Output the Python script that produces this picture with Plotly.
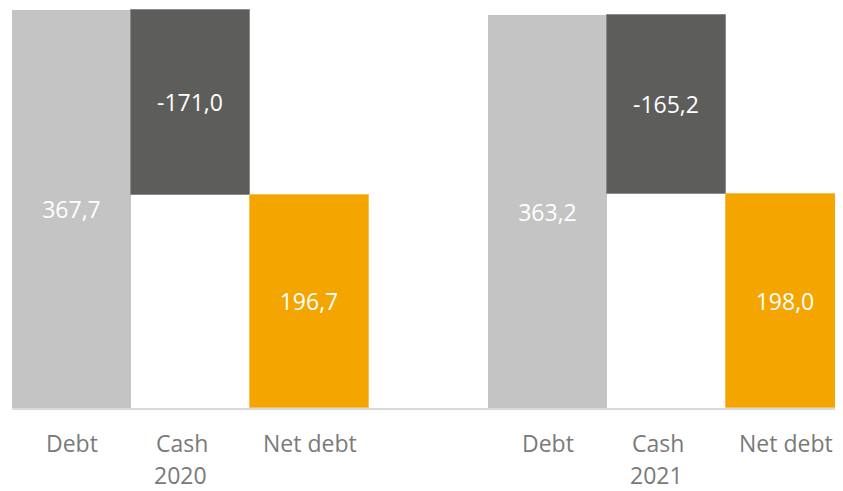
import plotly.graph_objects as go

years = ["2020", "2021"]
categories = ["Debt", "Cash", "Net debt"]
debt = [367.7, 363.2]
cash = [-171.0, -165.2]
net_debt = [196.7, 198.0]

C_DEBT = "#c3c4c3"
C_CASH = "#5d5d5b"
C_NET = "#f5a500"
LABEL_GRAY = "#7a7a7a"
FONT = "Open Sans"


def fmt(v):
    return f"{v:.1f}".replace(".", ",")


def xpos(g, j):
    return g * 4 + j + 0.5


fig = go.Figure()

fig.add_trace(go.Bar(
    x=[xpos(g, 0) for g in range(len(years))],
    y=debt,
    width=1,
    marker=dict(color=C_DEBT, line=dict(width=0)),
    text=[fmt(v) for v in debt],
))
fig.add_trace(go.Bar(
    x=[xpos(g, 1) for g in range(len(years))],
    y=cash,
    base=debt,
    width=1,
    marker=dict(color=C_CASH, line=dict(width=1, color="#8a8a88")),
    text=[fmt(v) for v in cash],
))
fig.add_trace(go.Bar(
    x=[xpos(g, 2) for g in range(len(years))],
    y=net_debt,
    width=1,
    marker=dict(color=C_NET, line=dict(width=1, color="#f8c050")),
    text=[fmt(v) for v in net_debt],
))

fig.update_traces(
    textposition="inside",
    insidetextanchor="middle",
    textangle=0,
    textfont=dict(color="white", size=23, family=FONT),
    hoverinfo="skip",
)

label_shift = {"Debt": 0, "Cash": -9, "Net debt": 0}
annotations = []
for g, yr in enumerate(years):
    for j, cat in enumerate(categories):
        annotations.append(dict(
            x=xpos(g, j), y=0, xref="x", yref="paper",
            text=cat, showarrow=False, yanchor="middle", xanchor="center",
            yshift=-35, xshift=label_shift[cat],
            font=dict(size=23, color=LABEL_GRAY, family=FONT),
        ))
    annotations.append(dict(
        x=xpos(g, 1), y=0, xref="x", yref="paper",
        text=yr, showarrow=False, yanchor="middle", xanchor="center",
        yshift=-67, xshift=-10, borderpad=0,
        font=dict(size=23, color=LABEL_GRAY, family=FONT),
    ))

fig.update_layout(
    width=835, height=483,
    margin=dict(l=4, r=0, t=0, b=83),
    paper_bgcolor="white",
    plot_bgcolor="white",
    showlegend=False,
    barmode="overlay",
    bargap=0,
    xaxis=dict(
        range=[0, 831 / 119], showgrid=False, zeroline=False,
        showticklabels=False, ticks="", showline=True,
        linecolor="#d9d9d9", linewidth=2, fixedrange=True,
    ),
    yaxis=dict(
        range=[0, 400 / 1.0824], showgrid=False, zeroline=False,
        showticklabels=False, ticks="", showline=False, fixedrange=True,
    ),
    annotations=annotations,
    uniformtext=dict(mode=False),
)

fig.write_html("out.html")
